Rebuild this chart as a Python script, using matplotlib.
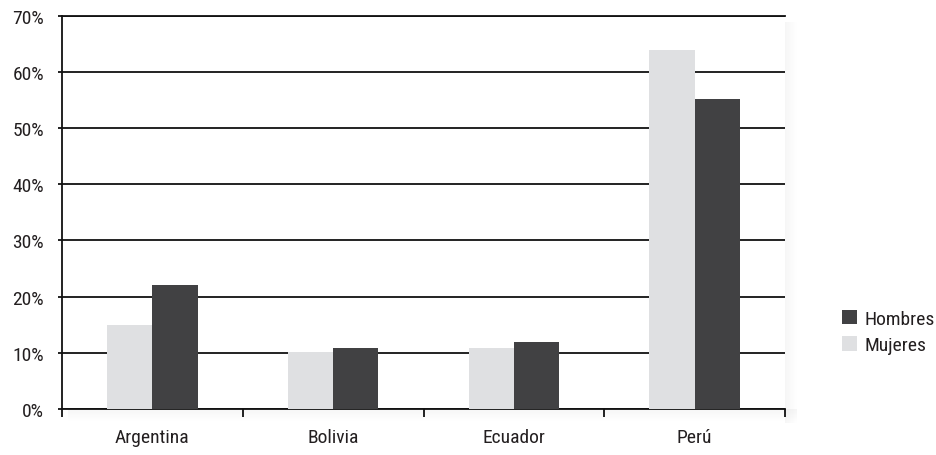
import matplotlib
matplotlib.use("Agg")
import matplotlib.pyplot as plt
import numpy as np
from matplotlib.patches import Rectangle

countries = ["Argentina", "Bolivia", "Ecuador", "Perú"]
mujeres = [14.9, 10.2, 10.8, 63.8]
hombres = [22.0, 10.8, 11.9, 55.2]
yticks = [0, 10, 20, 30, 40, 50, 60, 70]
ytick_labels = ["0%", "10%", "20%", "30%", "40%", "50%", "60%", "70%"]

plt.rcParams['font.family'] = ['Roboto Condensed', 'DejaVu Sans']
FS = 14
TXT = "#231f20"

W, H = 936, 456
fig = plt.figure(figsize=(W / 100, H / 100), dpi=100)
L, R, T, B = 62, 785, 16.5, 410
ax = fig.add_axes([L / W, 1 - B / H, (R - L) / W, (B - T) / H])

# soft shadow to the right of and below the plot area
for i in range(12):
    a = 0.035 * (1 - i / 12)
    fig.patches.append(Rectangle(((R + i) / W, 1 - (B + 14) / H), 1 / W, (B + 14 - T - 6) / H,
                                 transform=fig.transFigure, color="black", alpha=a, lw=0, zorder=0))
    fig.patches.append(Rectangle(((L + 6) / W, 1 - (B + 1 + i) / H), (R - L + 6) / W, 1 / H,
                                 transform=fig.transFigure, color="black", alpha=a, lw=0, zorder=0))

x = np.arange(len(countries))
w = 0.25
ax.bar(x - w / 2, mujeres, width=w, color="#dfe0e2", label="Mujeres", zorder=3)
ax.bar(x + w / 2, hombres, width=w, color="#414143", label="Hombres", zorder=3)

ax.set_xlim(-0.5, len(countries) - 0.5)
ax.set_ylim(0, 70)
ax.set_yticks(yticks)
ax.set_yticklabels(ytick_labels, fontsize=FS, color=TXT)
ax.yaxis.grid(True, color="#111111", linewidth=1.3, zorder=1)
ax.set_axisbelow(True)

ax.set_xticks(x)
ax.set_xticklabels(countries, fontsize=FS, color=TXT)
ax.tick_params(axis="x", length=0, pad=14)
ax.set_xticks(np.arange(-0.5, len(countries)), minor=True)
ax.tick_params(axis="x", which="minor", length=6, width=1.3, color="#111111", direction="out")
ax.tick_params(axis="y", length=3, width=1.3, color="#111111", pad=10)

ax.spines["right"].set_visible(False)
for s in ["left", "bottom", "top"]:
    ax.spines[s].set_linewidth(1.3)
    ax.spines[s].set_color("#111111")

handles, labels = ax.get_legend_handles_labels()
leg = fig.legend([handles[1], handles[0]], [labels[1], labels[0]],
                 loc="center left", bbox_to_anchor=(824 / W, 1 - 333 / H),
                 frameon=False, fontsize=FS, handlelength=0.82, handleheight=0.77,
                 handletextpad=0.36, labelspacing=0.45)
for t in leg.get_texts():
    t.set_color(TXT)

fig.savefig("out.png", dpi=100)
